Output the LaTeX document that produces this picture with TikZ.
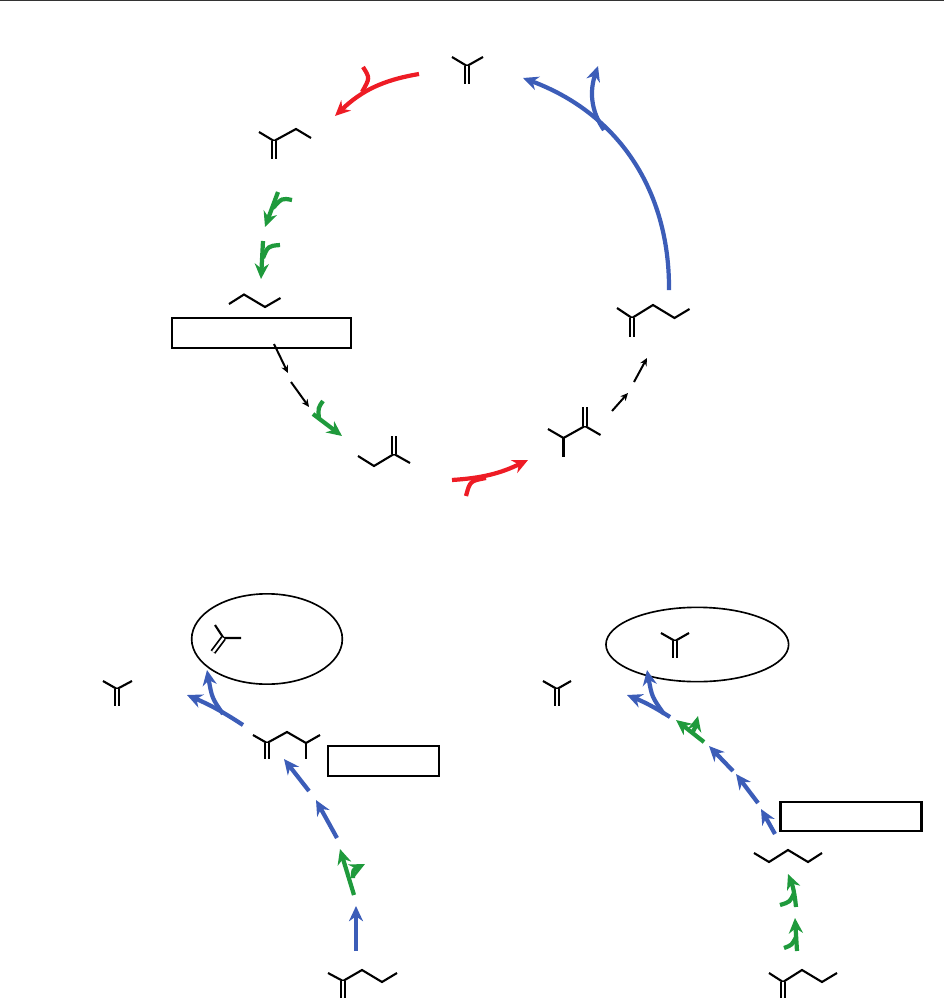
\documentclass[tikz,border=0pt]{standalone}
\usetikzlibrary{arrows.meta,shapes.geometric}
\definecolor{cycred}{HTML}{EE1C25}
\definecolor{cycblue}{HTML}{3C5DB8}
\definecolor{cycgreen}{HTML}{1F9A3C}
\tikzset{
    bond/.style={line width=1.8pt, black},
    dbond/.style={line width=1.5pt, black, double, double distance=2pt},
    redarrow/.style={line width=3.6pt, cycred, -{Stealth[length=13pt,width=12pt]}},
    redbranch/.style={line width=3.6pt, cycred},
    bluearrow/.style={line width=3.6pt, cycblue, -{Stealth[length=13pt,width=12pt]}},
    greenarrow/.style={line width=3.6pt, cycgreen, -{Stealth[length=13pt,width=12pt]}},
    greenbranch/.style={line width=3.6pt, cycgreen},
    smallarrow/.style={line width=1.7pt, black, -{Stealth[length=6.5pt,width=6pt]}},
    boxnode/.style={draw, line width=1.9pt, rectangle, inner sep=0pt},
    ringnode/.style={draw, line width=1.4pt, ellipse, inner sep=0pt}
}
\begin{document}
\begin{tikzpicture}[x=0.03cm, y=-0.03cm]
    \useasboundingbox (0,0) rectangle (944,1002);
    \coordinate (topL) at (0,0.5);
    \coordinate (topR) at (944,0.5);
    \draw[line width=1.2pt, black!80] (topL) -- (topR);

    % boxes and rings
    \node[boxnode, minimum width=5.37cm, minimum height=0.9cm] (boxA) at (261.5,333) {};
    \node[boxnode, minimum width=3.34cm, minimum height=0.9cm] (boxB) at (383.5,761) {};
    \node[boxnode, minimum width=4.23cm, minimum height=0.85cm] (boxC) at (851,816.5) {};
    \node[ringnode, minimum width=4.52cm, minimum height=2.71cm] (ringL) at (267,639) {};
    \node[ringnode, minimum width=5.48cm, minimum height=2.23cm] (ringR) at (697.3,644.5) {};

    % molecules of the cycle
    \draw[bond] (452,57) -- (467,66) -- (483,57);
    \draw[dbond] (467,66) -- (467,84);
    \draw[bond] (259,132) -- (274,141) -- (296,129) -- (311,138);
    \draw[dbond] (274,141) -- (274,159);
    \draw[bond] (229,304) -- (244,294.5) -- (265,307) -- (280.5,298);
    \draw[bond] (358,456) -- (374,466) -- (394,454) -- (410,463);
    \draw[dbond] (394,454) -- (394,436);
    \draw[bond] (548,429) -- (563.5,438) -- (585,426) -- (600.5,435);
    \draw[bond] (563.5,438) -- (563.5,457);
    \draw[dbond] (585,426) -- (585,407);
    \draw[bond] (617,308) -- (632,318) -- (653,305) -- (674.5,318) -- (689.5,309);
    \draw[dbond] (632,318) -- (632,337);

    % molecules of the left branch
    \draw[bond] (215,625) -- (223.5,638) -- (241,638);
    \draw[dbond] (223.5,638) -- (213,652);
    \draw[bond] (103,681) -- (117,689) -- (132,681);
    \draw[dbond] (117,689) -- (117,706);
    \draw[bond] (253,735) -- (267,743) -- (287,732) -- (306,743) -- (320,735);
    \draw[dbond] (267,743) -- (267,759);
    \draw[bond] (306,743) -- (306,759);
    \draw[bond] (328,973) -- (343,981) -- (362,970) -- (382,982) -- (397,973);
    \draw[dbond] (343,981) -- (343,998);

    % molecules of the right branch
    \draw[bond] (661,633) -- (675,641) -- (689,633);
    \draw[dbond] (675,641) -- (675,658);
    \draw[bond] (543,681) -- (557,689) -- (571,681);
    \draw[dbond] (557,689) -- (557,706);
    \draw[bond] (754,853) -- (769,862) -- (788,850) -- (808,862) -- (822,853);
    \draw[bond] (769,973) -- (783,982) -- (802,970) -- (822,982) -- (837,973);
    \draw[dbond] (783,982) -- (783,998);

    % cycle arrows
    \coordinate (r1s) at (419,74); \coordinate (r1e) at (335,116); \coordinate (r1b) at (363,67); \coordinate (r1j) at (362,92);
    \draw[redarrow] (r1s) to[bend right=17] (r1e);
    \draw[redbranch] (r1b) .. controls (370,78) .. (r1j);
    \coordinate (b1s) at (669,290); \coordinate (b1e) at (523,78); \coordinate (b1j) at (604,130); \coordinate (b1t) at (598,66);
    \draw[bluearrow] (b1s) to[bend right=35] (b1e);
    \draw[bluearrow] (b1j) .. controls (590,110) and (590,90) .. (b1t);
    \coordinate (g1s) at (278,192); \coordinate (g1e) at (265,227); \coordinate (g1b) at (292,200); \coordinate (g1j) at (273,208);
    \draw[greenarrow] (g1s) -- (g1e);
    \draw[greenbranch] (g1b) .. controls (282,198) .. (g1j);
    \coordinate (g2s) at (263,241); \coordinate (g2e) at (261,279); \coordinate (g2b) at (280,245); \coordinate (g2j) at (263,258);
    \draw[greenarrow] (g2s) -- (g2e);
    \draw[greenbranch] (g2b) .. controls (268,246) .. (g2j);
    \coordinate (k1s) at (274,344); \coordinate (k1e) at (288,373);
    \draw[smallarrow] (k1s) -- (k1e);
    \coordinate (k2s) at (291,382); \coordinate (k2e) at (309,407);
    \draw[smallarrow] (k2s) -- (k2e);
    \coordinate (g3s) at (313,414); \coordinate (g3e) at (342,436); \coordinate (g3b) at (323,401); \coordinate (g3j) at (319,419);
    \draw[greenarrow] (g3s) -- (g3e);
    \draw[greenbranch] (g3b) .. controls (318,408) .. (g3j);
    \coordinate (r2s) at (452,480); \coordinate (r2e) at (528,460); \coordinate (r2b) at (466,496); \coordinate (r2j) at (486,478);
    \draw[redarrow] (r2s) to[bend right=11] (r2e);
    \draw[redbranch] (r2b) .. controls (470,481) .. (r2j);
    \coordinate (k3s) at (612,411); \coordinate (k3e) at (628,393);
    \draw[smallarrow] (k3s) -- (k3e);
    \coordinate (k4s) at (634,382); \coordinate (k4e) at (647,358);
    \draw[smallarrow] (k4s) -- (k4e);

    % left branch arrows
    \coordinate (l1s) at (356,951); \coordinate (l1e) at (356,906);
    \draw[bluearrow] (l1s) -- (l1e);
    \coordinate (l2s) at (354,895); \coordinate (l2e) at (340,849); \coordinate (l2j) at (353,878); \coordinate (l2t) at (365,864);
    \draw[greenarrow] (l2s) -- (l2e);
    \draw[greenarrow] (l2j) .. controls (353,870) .. (l2t);
    \coordinate (l3s) at (337,838); \coordinate (l3e) at (316,800);
    \draw[bluearrow] (l3s) -- (l3e);
    \coordinate (l4s) at (309,791); \coordinate (l4e) at (284,759);
    \draw[bluearrow] (l4s) -- (l4e);
    \coordinate (l5s) at (243,725); \coordinate (l5e) at (187,695); \coordinate (l5j) at (223,714); \coordinate (l5t) at (207,670);
    \draw[bluearrow] (l5s) to[bend right=5] (l5e);
    \draw[bluearrow] (l5j) .. controls (212,698) .. (l5t);

    % right branch arrows
    \coordinate (m1s) at (797,951); \coordinate (m1e) at (795,918); \coordinate (m1b) at (784,948); \coordinate (m1j) at (796,937);
    \draw[greenarrow] (m1s) -- (m1e);
    \draw[greenbranch] (m1b) .. controls (792,945) .. (m1j);
    \coordinate (m2s) at (796,907); \coordinate (m2e) at (788,874); \coordinate (m2b) at (780,905); \coordinate (m2j) at (794,893);
    \draw[greenarrow] (m2s) to[bend right=8] (m2e);
    \draw[greenbranch] (m2b) .. controls (790,902) .. (m2j);
    \coordinate (m3s) at (775,834); \coordinate (m3e) at (761,809);
    \draw[bluearrow] (m3s) -- (m3e);
    \coordinate (m4s) at (758,803); \coordinate (m4e) at (736,774);
    \draw[bluearrow] (m4s) -- (m4e);
    \coordinate (m5s) at (733,771); \coordinate (m5e) at (709,746);
    \draw[bluearrow] (m5s) -- (m5e);
    \coordinate (m6s) at (704,742); \coordinate (m6e) at (676,720); \coordinate (m6j) at (692,733); \coordinate (m6t) at (698,716);
    \draw[greenarrow] (m6s) -- (m6e);
    \draw[greenarrow] (m6j) .. controls (695,728) .. (m6t);
    \coordinate (m7s) at (670,717); \coordinate (m7e) at (627,695); \coordinate (m7j) at (664,714); \coordinate (m7t) at (647,670);
    \draw[bluearrow] (m7s) to[bend right=5] (m7e);
    \draw[bluearrow] (m7j) .. controls (652,697) .. (m7t);
\end{tikzpicture}
\end{document}
